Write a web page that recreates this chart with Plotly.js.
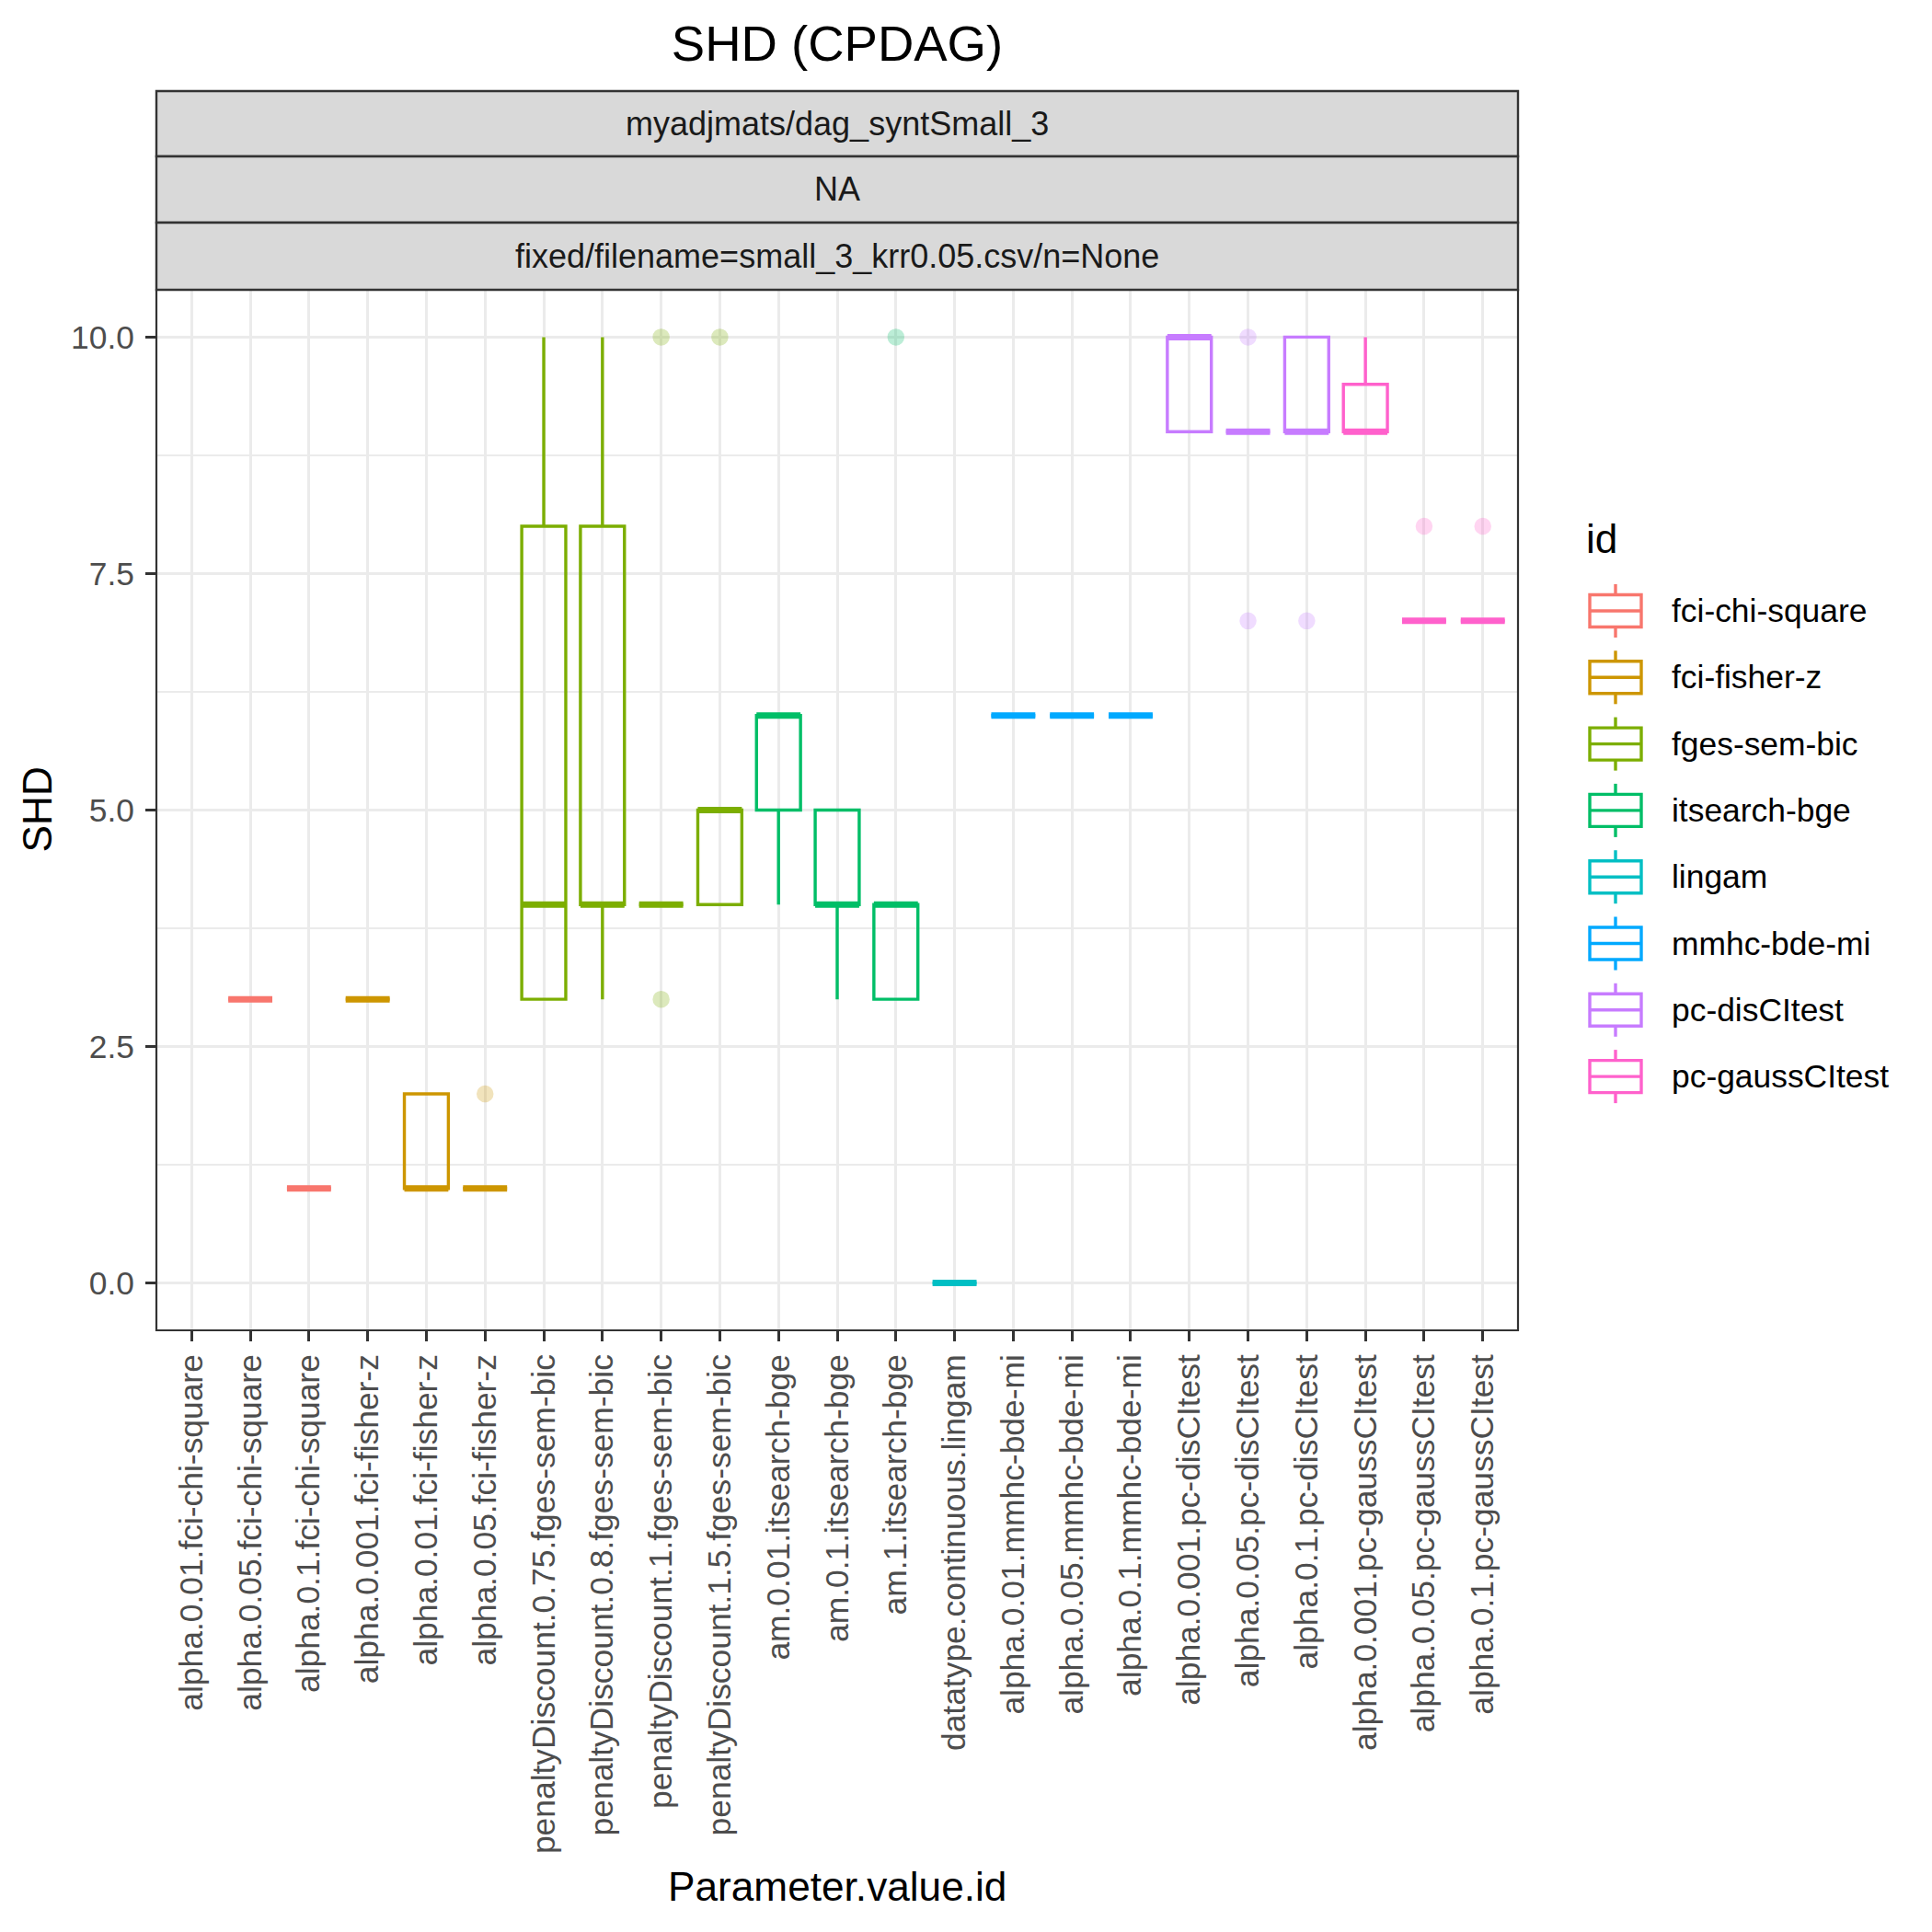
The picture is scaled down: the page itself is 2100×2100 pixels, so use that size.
<!DOCTYPE html>
<html><head><meta charset="utf-8">
<script src="https://cdn.plot.ly/plotly-3.0.1.min.js"></script>
<style>html,body{margin:0;padding:0;background:#fff}</style>
</head><body><div id="chart" style="width:2100px;height:2100px"></div>
<script>
// ---------------- data ----------------
const categories = [
  'alpha.0.01.fci-chi-square','alpha.0.05.fci-chi-square','alpha.0.1.fci-chi-square',
  'alpha.0.001.fci-fisher-z','alpha.0.01.fci-fisher-z','alpha.0.05.fci-fisher-z',
  'penaltyDiscount.0.75.fges-sem-bic','penaltyDiscount.0.8.fges-sem-bic','penaltyDiscount.1.fges-sem-bic','penaltyDiscount.1.5.fges-sem-bic',
  'am.0.01.itsearch-bge','am.0.1.itsearch-bge','am.1.itsearch-bge',
  'datatype.continuous.lingam',
  'alpha.0.01.mmhc-bde-mi','alpha.0.05.mmhc-bde-mi','alpha.0.1.mmhc-bde-mi',
  'alpha.0.001.pc-disCItest','alpha.0.05.pc-disCItest','alpha.0.1.pc-disCItest',
  'alpha.0.001.pc-gaussCItest','alpha.0.05.pc-gaussCItest','alpha.0.1.pc-gaussCItest'
];
const categoryId = [
  'fci-chi-square','fci-chi-square','fci-chi-square',
  'fci-fisher-z','fci-fisher-z','fci-fisher-z',
  'fges-sem-bic','fges-sem-bic','fges-sem-bic','fges-sem-bic',
  'itsearch-bge','itsearch-bge','itsearch-bge',
  'lingam',
  'mmhc-bde-mi','mmhc-bde-mi','mmhc-bde-mi',
  'pc-disCItest','pc-disCItest','pc-disCItest',
  'pc-gaussCItest','pc-gaussCItest','pc-gaussCItest'
];
const lowerWhisker = [null,3,1,3,1,1,3,3,4,4,4,3,3,0,6,6,6,9,9,9,9,7,7];
const q1Values     = [null,3,1,3,1,1,3,4,4,4,5,4,3,0,6,6,6,9,9,9,9,7,7];
const medianValues = [null,3,1,3,1,1,4,4,4,5,6,4,4,0,6,6,6,10,9,9,9,7,7];
const q3Values     = [null,3,1,3,2,1,8,8,4,5,6,5,4,0,6,6,6,10,9,10,9.5,7,7];
const upperWhisker = [null,3,1,3,2,1,10,10,4,5,6,5,4,0,6,6,6,10,9,10,10,7,7];
const outlierCategory = [6,9,9,10,13,19,19,20,22,23];
const outlierValue    = [2,10,3,10,10,10,7,7,8,8];
const ids = ['fci-chi-square','fci-fisher-z','fges-sem-bic','itsearch-bge','lingam','mmhc-bde-mi','pc-disCItest','pc-gaussCItest'];
const idColors = ['#F8766D','#CD9600','#7CAE00','#00BE67','#00BFC4','#00A9FF','#C77CFF','#FF61CC'];
const yTickValues = [0,2.5,5,7.5,10];
const yTickLabels = ['0.0','2.5','5.0','7.5','10.0'];
const stripLabels = ['myadjmats/dag_syntSmall_3','NA','fixed/filename=small_3_krr0.05.csv/n=None'];
const chartTitle = 'SHD (CPDAG)';
const xTitle = 'Parameter.value.id';
const yTitle = 'SHD';
const legendTitle = 'id';

// ---------------- layout geometry ----------------
const W = 2100, H = 2100;
const L = 170, R = 1650, T = 315, B = 1446;
const pw = R - L, ph = B - T;
const px2x = p => (p - L) / pw;
const px2y = p => (B - p) / ph;
const FONT = '"Liberation Sans", Arial, Helvetica, sans-serif';
const boxW = 0.75;

const traces = [];
ids.forEach((g, k) => {
  const idx = [];
  categories.forEach((c, i) => { if (categoryId[i] === g && q1Values[i] !== null) idx.push(i); });
  const x = idx.map(i => i + 1);
  const col = idColors[k];
  traces.push({
    type: 'box', name: g, x: x,
    q1: idx.map(i => q1Values[i]), median: idx.map(i => medianValues[i]), q3: idx.map(i => q3Values[i]),
    lowerfence: idx.map(i => lowerWhisker[i]), upperfence: idx.map(i => upperWhisker[i]),
    width: boxW, whiskerwidth: 0, boxpoints: false,
    line: {color: col, width: 3.4}, fillcolor: 'rgba(255,255,255,0)',
    showlegend: false, hoverinfo: 'skip'
  });
  // thicker median line (ggplot fatten = 2)
  const med = idx.map(i => medianValues[i]);
  traces.push({
    type: 'box', name: g + ' median', x: x,
    q1: med, median: med, q3: med, lowerfence: med, upperfence: med,
    width: boxW, whiskerwidth: 0, boxpoints: false,
    line: {color: col, width: 7}, fillcolor: 'rgba(255,255,255,0)',
    showlegend: false, hoverinfo: 'skip'
  });
  const ox = [], oy = [];
  outlierCategory.forEach((c, j) => { if (categoryId[c - 1] === g) { ox.push(c); oy.push(outlierValue[j]); } });
  if (ox.length) {
    traces.push({
      type: 'scatter', mode: 'markers', x: ox, y: oy, showlegend: false, hoverinfo: 'skip',
      marker: {color: col, size: 17, opacity: 0.26, line: {color: col, width: 1.5}}
    });
  }
});

const shapes = [];
const annotations = [];
// strips
const stripEdges = [99, 170, 242, 315];
stripLabels.forEach((s, i) => {
  shapes.push({type: 'rect', xref: 'paper', yref: 'paper', x0: 0, x1: 1,
    y0: px2y(stripEdges[i + 1]), y1: px2y(stripEdges[i]),
    fillcolor: '#D9D9D9', line: {color: '#333333', width: 2.4}, layer: 'above'});
  annotations.push({xref: 'paper', yref: 'paper', x: 0.5, y: px2y((stripEdges[i] + stripEdges[i + 1]) / 2),
    text: s, showarrow: false, xanchor: 'center', yanchor: 'middle',
    font: {family: FONT, size: 36, color: '#1A1A1A'}});
});
// panel border
shapes.push({type: 'rect', xref: 'paper', yref: 'paper', x0: 0, x1: 1, y0: 0, y1: 1,
  line: {color: '#333333', width: 2.2}, fillcolor: 'rgba(0,0,0,0)', layer: 'above'});

// axis titles
annotations.push({xref: 'paper', yref: 'paper', x: 0.5, y: px2y(2050), text: xTitle, showarrow: false,
  xanchor: 'center', yanchor: 'middle', font: {family: FONT, size: 44.2, color: '#000'}});
annotations.push({xref: 'paper', yref: 'paper', x: px2x(40), y: 0.5, text: yTitle, showarrow: false, textangle: -90,
  xanchor: 'center', yanchor: 'middle', font: {family: FONT, size: 44.2, color: '#000'}});

// legend (ggplot style boxplot keys)
annotations.push({xref: 'paper', yref: 'paper', x: px2x(1722), y: px2y(585), text: legendTitle, showarrow: false,
  xanchor: 'left', yanchor: 'middle', font: {family: FONT, size: 44.2, color: '#000'}});
ids.forEach((g, k) => {
  const cy = 664 + 72.3 * k;
  const col = idColors[k];
  const kx0 = 1728, kx1 = 1784, kxc = (kx0 + kx1) / 2;
  shapes.push({type: 'rect', xref: 'paper', yref: 'paper', x0: px2x(kx0), x1: px2x(kx1),
    y0: px2y(cy + 17.5), y1: px2y(cy - 17.5), line: {color: col, width: 3.4}, fillcolor: 'rgba(255,255,255,0)'});
  shapes.push({type: 'line', xref: 'paper', yref: 'paper', x0: px2x(kx0), x1: px2x(kx1),
    y0: px2y(cy), y1: px2y(cy), line: {color: col, width: 3.4}});
  shapes.push({type: 'line', xref: 'paper', yref: 'paper', x0: px2x(kxc), x1: px2x(kxc),
    y0: px2y(cy - 29), y1: px2y(cy - 17.5), line: {color: col, width: 3.4}});
  shapes.push({type: 'line', xref: 'paper', yref: 'paper', x0: px2x(kxc), x1: px2x(kxc),
    y0: px2y(cy + 17.5), y1: px2y(cy + 29), line: {color: col, width: 3.4}});
  annotations.push({xref: 'paper', yref: 'paper', x: px2x(1815), y: px2y(cy), text: g, showarrow: false,
    xanchor: 'left', yanchor: 'middle', font: {family: FONT, size: 35.4, color: '#000'}});
});

const layout = {
  width: W, height: H,
  margin: {l: L, r: W - R, t: T, b: H - B, pad: 0},
  paper_bgcolor: '#FFFFFF', plot_bgcolor: '#FFFFFF',
  showlegend: false, boxmode: 'overlay',
  font: {family: FONT, color: '#000'},
  title: {text: chartTitle, x: 0.5, xref: 'paper', xanchor: 'center', y: 1 - 47 / H, yref: 'container', yanchor: 'middle',
    font: {family: FONT, size: 54.5, color: '#000'}},
  xaxis: {
    range: [0.4, categories.length + 0.6], tickmode: 'array',
    tickvals: categories.map((c, i) => i + 1), ticktext: categories,
    tickangle: -90, ticks: 'outside', ticklen: 11, tickwidth: 3, tickcolor: '#333333',
    tickfont: {family: FONT, size: 35.4, color: '#4D4D4D'},
    showgrid: true, gridcolor: '#EBEBEB', gridwidth: 3, zeroline: false, showline: false,
    automargin: false, fixedrange: true
  },
  yaxis: {
    range: [-0.5, 10.5], tickmode: 'array', tickvals: yTickValues, ticktext: yTickLabels,
    ticks: 'outside', ticklen: 11, tickwidth: 3, tickcolor: '#333333',
    tickfont: {family: FONT, size: 35.4, color: '#4D4D4D'}, ticklabelstandoff: 5,
    showgrid: true, gridcolor: '#EBEBEB', gridwidth: 3, zeroline: false, showline: false,
    minor: {tickmode: 'array', tickvals: [1.25, 3.75, 6.25, 8.75], showgrid: true, gridcolor: '#EBEBEB', gridwidth: 1.5, ticks: ''},
    automargin: false, fixedrange: true
  },
  shapes: shapes,
  annotations: annotations
};

Plotly.newPlot('chart', traces, layout, {displayModeBar: false, staticPlot: true});
</script></body></html>
